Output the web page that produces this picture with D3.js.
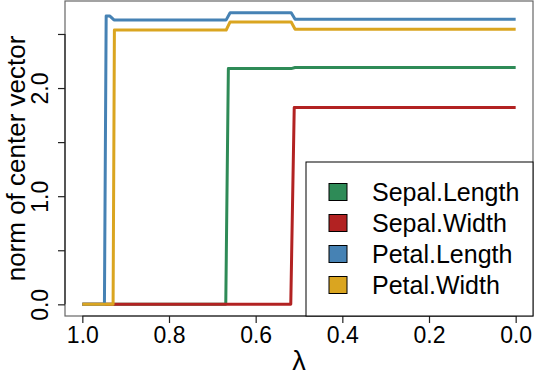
<!DOCTYPE html>
<html>
<head>
<meta charset="utf-8">
<script src="https://cdn.jsdelivr.net/npm/d3@7"></script>
<style>
  body { margin: 0; background: #fff; }
  text { font-family: "Liberation Sans", Arial, sans-serif; fill: #000; }
</style>
</head>
<body>
<script>
var width = 536, height = 376;

// series names and colours (legend order)
var seriesNames = ["Sepal.Length", "Sepal.Width", "Petal.Length", "Petal.Width"];
var seriesColors = ["#2e8b57", "#b22222", "#4682b4", "#daa520"];

// path of each series as lambda / value pairs
var sepalLengthLambda = [1.0, 0.669, 0.663, 0.518, 0.509, 0.0];
var sepalLengthValue  = [0, 0, 2.18, 2.18, 2.19, 2.19];

var sepalWidthLambda = [1.0, 0.519, 0.511, 0.0];
var sepalWidthValue  = [0, 0, 1.82, 1.82];

var petalLengthLambda = [1.0, 0.949, 0.945, 0.937, 0.927, 0.668, 0.659, 0.518, 0.509, 0.0];
var petalLengthValue  = [0, 0, 2.667, 2.667, 2.63, 2.63, 2.697, 2.697, 2.636, 2.636];

var petalWidthLambda = [1.0, 0.929, 0.926, 0.668, 0.659, 0.518, 0.509, 0.0];
var petalWidthValue  = [0, 0, 2.537, 2.537, 2.611, 2.611, 2.543, 2.543];

var xTicks = [1.0, 0.8, 0.6, 0.4, 0.2, 0.0];
var yTicks = [0, 0.5, 1, 1.5, 2, 2.5];
var yTickLabels = ["0.0", "", "1.0", "", "2.0", ""];

var lambdas = [sepalLengthLambda, sepalWidthLambda, petalLengthLambda, petalWidthLambda];
var values = [sepalLengthValue, sepalWidthValue, petalLengthValue, petalWidthValue];

var series = seriesNames.map(function(name, i) {
  return { name: name, color: seriesColors[i],
    points: lambdas[i].map(function(l, j) { return [l, values[i][j]]; }) };
});

var plot = { left: 65, right: 533, top: 1, bottom: 316 };

// R style 4% padding on each side
var yMax = d3.max(values, function(v) { return d3.max(v); });
var x = d3.scaleLinear().domain([1.04, -0.04]).range([plot.left, plot.right]);
var y = d3.scaleLinear().domain([-0.04 * yMax, 1.04 * yMax]).range([plot.bottom, plot.top]);

var svg = d3.select("body").append("svg").attr("width", width).attr("height", height);

// box round the plot region
svg.append("rect")
  .attr("x", plot.left).attr("y", plot.top)
  .attr("width", plot.right - plot.left).attr("height", plot.bottom - plot.top)
  .attr("fill", "none").attr("stroke", "#666").attr("stroke-width", 1.2);

var line = d3.line().x(function(d) { return x(d[0]); }).y(function(d) { return y(d[1]); });

svg.append("g").selectAll("path")
  .data(series)
  .enter().append("path")
  .attr("d", function(d) { return line(d.points); })
  .attr("fill", "none")
  .attr("stroke", function(d) { return d.color; })
  .attr("stroke-width", 3)
  .attr("stroke-linejoin", "round");

// x axis
var xAxis = svg.append("g").attr("transform", "translate(0," + plot.bottom + ")")
  .call(d3.axisBottom(x).tickValues(xTicks).tickSize(7).tickPadding(4).tickFormat(d3.format(".1f")));
xAxis.select(".domain").attr("d", "M" + x(1) + ",0H" + x(0)).attr("stroke", "#222").attr("stroke-width", 1.2);
xAxis.selectAll(".tick line").attr("stroke", "#222").attr("stroke-width", 1.2);
xAxis.selectAll(".tick text").style("font-size", "23px").style("font-family", "Liberation Sans, Arial, sans-serif").attr("fill", "#000");

// y axis, labels turned like R's las = 0
var yAxis = svg.append("g").attr("transform", "translate(" + plot.left + ",0)")
  .call(d3.axisLeft(y).tickValues(yTicks).tickSize(7).tickFormat(function(d, i) { return yTickLabels[i]; }));
yAxis.select(".domain").attr("d", "M0," + y(0) + "V" + y(2.5)).attr("stroke", "#222").attr("stroke-width", 1.2);
yAxis.selectAll(".tick line").attr("stroke", "#222").attr("stroke-width", 1.2);
yAxis.selectAll(".tick text")
  .attr("x", 0).attr("y", 0).attr("dy", 0)
  .attr("text-anchor", "middle")
  .attr("transform", "translate(-17,0) rotate(-90)")
  .style("font-size", "23px").style("font-family", "Liberation Sans, Arial, sans-serif").attr("fill", "#000");

// axis titles
svg.append("text")
  .attr("x", (plot.left + plot.right) / 2).attr("y", 370)
  .attr("text-anchor", "middle").style("font-size", "27px")
  .text("λ");

svg.append("text")
  .attr("transform", "translate(25," + ((plot.top + plot.bottom) / 2) + ") rotate(-90)")
  .attr("text-anchor", "middle").style("font-size", "26px")
  .text("norm of center vector");

// legend
var legend = svg.append("g");
legend.append("rect")
  .attr("x", 306).attr("y", 162).attr("width", plot.right - 306).attr("height", plot.bottom - 162)
  .attr("fill", "#fff").attr("stroke", "#000").attr("stroke-width", 1);

var item = legend.selectAll("g.item")
  .data(series)
  .enter().append("g")
  .attr("transform", function(d, i) { return "translate(329," + (192 + i * 31) + ")"; });
item.append("rect")
  .attr("x", 0).attr("y", -8.5).attr("width", 18).attr("height", 17)
  .attr("fill", function(d) { return d.color; })
  .attr("stroke", "#000").attr("stroke-width", 1);
item.append("text")
  .attr("x", 43).attr("y", 9)
  .style("font-size", "25px")
  .text(function(d) { return d.name; });
</script>
</body>
</html>
